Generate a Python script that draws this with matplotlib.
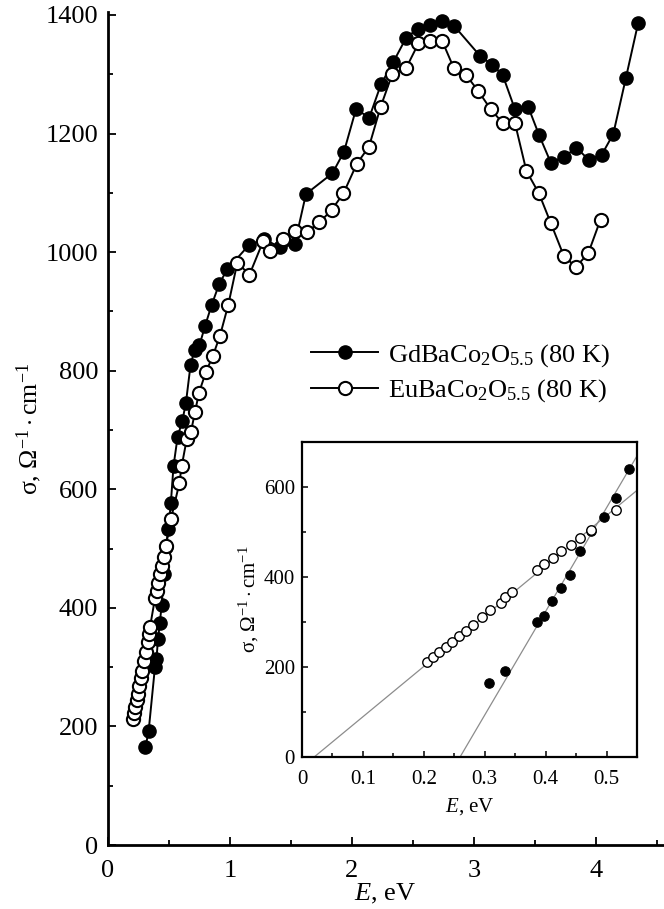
import numpy as np
import matplotlib
matplotlib.use("Agg")
import matplotlib.pyplot as plt
from matplotlib.ticker import MultipleLocator

plt.rcParams['font.family'] = ['Liberation Serif', 'DejaVu Serif']
plt.rcParams['mathtext.fontset'] = 'custom'
plt.rcParams['mathtext.rm'] = 'Liberation Serif'
plt.rcParams['mathtext.it'] = 'Liberation Serif:italic'

# GdBaCo2O5.5 (80 K), filled circles
gd_E = [0.307, 0.333, 0.385, 0.397, 0.410, 0.425, 0.440, 0.457, 0.475, 0.495, 0.515, 0.537,
        0.571, 0.609, 0.639, 0.677, 0.71, 0.75, 0.795, 0.85, 0.913, 0.978, 1.156, 1.28,
        1.41, 1.53, 1.623, 1.84, 1.934, 2.033, 2.142, 2.238, 2.34, 2.443, 2.54, 2.64,
        2.74, 2.84, 3.05, 3.15, 3.235, 3.336, 3.445, 3.535, 3.63, 3.74, 3.84, 3.94,
        4.047, 4.142, 4.246, 4.347]
gd_sigma = [165, 192, 300, 313, 347, 375, 405, 457, 502, 533, 576, 639,
            689, 715, 746, 810, 835, 843, 875, 911, 947, 971, 1012, 1022,
            1008, 1013, 1098, 1133, 1169, 1241, 1227, 1283, 1321, 1361, 1377, 1383,
            1389, 1381, 1331, 1316, 1299, 1241, 1245, 1197, 1151, 1161, 1176, 1156,
            1164, 1199, 1294, 1387]

# EuBaCo2O5.5 (80 K), open circles
eu_E = [0.206, 0.215, 0.225, 0.236, 0.247, 0.258, 0.269, 0.281, 0.295, 0.309, 0.326, 0.334,
        0.344, 0.385, 0.398, 0.412, 0.426, 0.441, 0.457, 0.475, 0.516, 0.585, 0.604, 0.645,
        0.68, 0.713, 0.746, 0.803, 0.858, 0.918, 0.986, 1.06, 1.16, 1.273, 1.328, 1.432,
        1.533, 1.63, 1.733, 1.833, 1.93, 2.04, 2.14, 2.235, 2.33, 2.443, 2.545, 2.64,
        2.74, 2.836, 2.934, 3.035, 3.137, 3.235, 3.336, 3.43, 3.533, 3.63, 3.738, 3.836,
        3.937, 4.038]
eu_sigma = [212, 222, 233, 245, 255, 269, 281, 293, 311, 326, 343, 356,
            367, 416, 429, 442, 457, 471, 486, 505, 550, 610, 639, 684,
            697, 730, 763, 798, 824, 859, 911, 982, 962, 1019, 1002, 1022,
            1036, 1034, 1050, 1071, 1099, 1149, 1178, 1245, 1300, 1310, 1352, 1356,
            1356, 1310, 1299, 1272, 1241, 1218, 1218, 1137, 1099, 1049, 993, 975,
            998, 1055]

# linear fits in the inset: sigma = slope * (E - E0)
gd_fit = (2303, 0.2595)
eu_fit = (1118, 0.020)

W, H = 664, 909
fig = plt.figure(figsize=(W / 100, H / 100), dpi=100)

ax = fig.add_axes([108 / W, 1 - 845 / H, 555 / W, 833 / H])
ax.plot(gd_E, gd_sigma, '-o', color='black', lw=1.4, ms=9.5,
        mfc='black', mec='black', mew=1.0, label=r'GdBaCo$_2$O$_{5.5}$ (80 K)')
ax.plot(eu_E, eu_sigma, '-o', color='black', lw=1.4, ms=9.5,
        mfc='white', mec='black', mew=1.5, label=r'EuBaCo$_2$O$_{5.5}$ (80 K)')
ax.set_xlim(0, 4.55)
ax.set_ylim(0, 1405)
ax.xaxis.set_major_locator(MultipleLocator(1))
ax.xaxis.set_minor_locator(MultipleLocator(0.5))
ax.yaxis.set_major_locator(MultipleLocator(200))
ax.yaxis.set_minor_locator(MultipleLocator(100))
for s in ['top', 'right']:
    ax.spines[s].set_visible(False)
for s in ['left', 'bottom']:
    ax.spines[s].set_linewidth(2.0)
ax.tick_params(which='both', direction='in', width=1.3, labelsize=19)
ax.tick_params(which='major', length=6)
ax.tick_params(which='minor', length=3.8)
ax.tick_params(axis='x', pad=11)
ax.tick_params(axis='y', pad=7)
ax.set_xlabel(r'$E$, eV', fontsize=19, labelpad=0)
ax.set_ylabel(r'σ, Ω$^{-1}\cdot$cm$^{-1}$', fontsize=18.5, labelpad=1)

ax.legend(loc='upper left', bbox_to_anchor=(311 / W, 1 - 342 / H),
          bbox_transform=fig.transFigure, frameon=False, fontsize=19,
          handlelength=2.55, handletextpad=0.35, labelspacing=0.33,
          borderpad=0, borderaxespad=0)

# inset
ins = fig.add_axes([302 / W, 1 - 757 / H, 335 / W, 315 / H])
ins.plot(gd_E, gd_sigma, 'o', ms=6.8, mfc='black', mec='black', mew=0.8)
ins.plot(eu_E, eu_sigma, 'o', ms=6.8, mfc='white', mec='black', mew=1.0)
xx = np.array([0.0, 0.55])
ins.plot(xx, gd_fit[0] * (xx - gd_fit[1]), color='#8c8c8c', lw=0.9, zorder=1)
ins.plot(xx, eu_fit[0] * (xx - eu_fit[1]), color='#8c8c8c', lw=0.9, zorder=1)
ins.set_xlim(0, 0.55)
ins.set_ylim(0, 700)
ins.xaxis.set_major_locator(MultipleLocator(0.1))
ins.xaxis.set_minor_locator(MultipleLocator(0.05))
ins.yaxis.set_major_locator(MultipleLocator(200))
ins.yaxis.set_minor_locator(MultipleLocator(100))
ins.set_xticks([0, 0.1, 0.2, 0.3, 0.4, 0.5])
ins.set_xticklabels(['0', '0.1', '0.2', '0.3', '0.4', '0.5'])
for s in ins.spines.values():
    s.set_linewidth(1.6)
ins.tick_params(which='both', direction='in', width=1.1, labelsize=15)
ins.tick_params(which='major', length=4.5)
ins.tick_params(which='minor', length=3)
ins.tick_params(axis='x', pad=9.5)
ins.tick_params(axis='y', pad=5)
ins.set_xlabel(r'$E$, eV', fontsize=15, labelpad=5)
ins.set_ylabel(r'σ, Ω$^{-1}\cdot$cm$^{-1}$', fontsize=15, labelpad=2)

fig.savefig('out.png', dpi=100, facecolor='white')
